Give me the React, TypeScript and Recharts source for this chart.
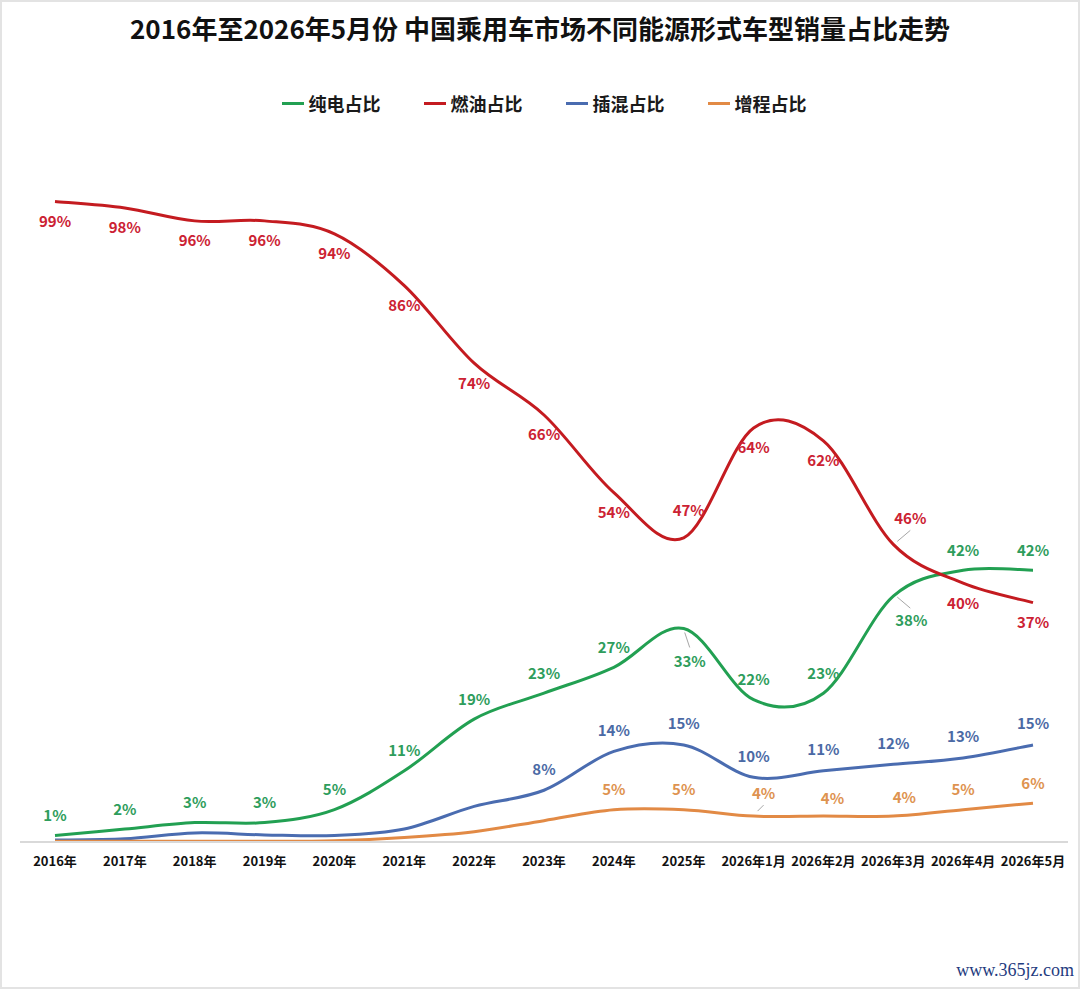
import { LineChart, Line, XAxis, YAxis, LabelList, Legend } from 'recharts';

const categories = [
  '2016年', '2017年', '2018年', '2019年', '2020年', '2021年', '2022年', '2023年',
  '2024年', '2025年', '2026年1月', '2026年2月', '2026年3月', '2026年4月', '2026年5月',
];
// 纯电
const bevShare = [1, 2, 3, 3, 5, 11, 19, 23, 27, 33, 22, 23, 38, 42, 42];
// 燃油
const iceShare = [99, 98, 96, 96, 94, 86, 74, 66, 54, 47, 64, 62, 46, 40, 37];
// 插混 (early years unlabeled)
const phevShare = [0.3, 0.5, 1.4, 1.1, 1.0, 2.0, 5.5, 8, 14, 15, 10, 11, 12, 13, 15];
// 增程
const erevShare = [0.1, 0.1, 0.1, 0.1, 0.2, 0.7, 1.6, 3.3, 5, 5, 4, 4, 4, 5, 6];

const data = categories.map((cat, i) => ({
  cat,
  bev: bevShare[i],
  ice: iceShare[i],
  phev: phevShare[i],
  erev: erevShare[i],
}));

const FONT = "'Noto Sans CJK SC', 'Noto Sans', sans-serif";

// excel-like smoothed line (catmull-rom through every point)
const excelSmooth = (context: any) => {
  let pts: number[][] = [];
  return {
    areaStart() {},
    areaEnd() {},
    lineStart() {
      pts = [];
    },
    point(x: number, y: number) {
      pts.push([+x, +y]);
    },
    lineEnd() {
      if (!pts.length) return;
      context.moveTo(pts[0][0], pts[0][1]);
      for (let i = 0; i < pts.length - 1; i++) {
        const p0 = pts[Math.max(i - 1, 0)];
        const p1 = pts[i];
        const p2 = pts[i + 1];
        const p3 = pts[Math.min(i + 2, pts.length - 1)];
        context.bezierCurveTo(
          p1[0] + (p2[0] - p0[0]) / 6,
          p1[1] + (p2[1] - p0[1]) / 6,
          p2[0] - (p3[0] - p1[0]) / 6,
          p2[1] - (p3[1] - p1[1]) / 6,
          p2[0],
          p2[1],
        );
      }
    },
  };
};

type Spot = { dx: number; dy: number; leader?: number[] };

const SERIES = [
  {
    key: 'bev', name: '纯电占比', color: '#22a052', labelColor: '#2e9d5c', from: 0,
    base: { dx: 0, dy: -21 } as Spot,
    spots: {
      '2025年': { dx: 6, dy: 32, leader: [1, 4, 6, 19] },
      '2026年3月': { dx: 18, dy: 23, leader: [4, 1, 17, 12] },
    } as Record<string, Spot>,
  },
  {
    key: 'ice', name: '燃油占比', color: '#c41b20', labelColor: '#cc2233', from: 0,
    base: { dx: 0, dy: 19 } as Spot,
    spots: {
      '2025年': { dx: 5, dy: -28 },
      '2026年3月': { dx: 17, dy: -27, leader: [4, -3, 17, -14] },
    } as Record<string, Spot>,
  },
  {
    key: 'phev', name: '插混占比', color: '#4a6cb0', labelColor: '#4b6aa5', from: 7,
    base: { dx: 0, dy: -22 } as Spot,
    spots: {} as Record<string, Spot>,
  },
  {
    key: 'erev', name: '增程占比', color: '#e28a45', labelColor: '#de9350', from: 8,
    base: { dx: 0, dy: -21 } as Spot,
    spots: {
      '2026年1月': { dx: 10, dy: -24, leader: [4, -5, 10, -11] },
      '2026年2月': { dx: 9, dy: -19 },
      '2026年3月': { dx: 11, dy: -20 },
    } as Record<string, Spot>,
  },
];

const makeLabel = (s: (typeof SERIES)[number]) => (props: any) => {
  const { x, y, value, index } = props;
  if (index < s.from || x == null || y == null) return null;
  const spot = s.spots[categories[index]] || s.base;
  return (
    <g key={`${s.key}-${index}`}>
      {spot.leader && (
        <line
          x1={x + spot.leader[0]}
          y1={y + spot.leader[1]}
          x2={x + spot.leader[2]}
          y2={y + spot.leader[3]}
          stroke="#a6a6a6"
          strokeWidth={1}
        />
      )}
      <text
        x={x + spot.dx}
        y={y + spot.dy}
        textAnchor="middle"
        dominantBaseline="central"
        fill={s.labelColor}
        fontSize={15}
        fontWeight={700}
        fontFamily={FONT}
      >
        {Math.round(value)}%
      </text>
    </g>
  );
};

const CatTick = (props: any) => {
  const { x, y, payload } = props;
  return (
    <text x={x} y={y + 10} textAnchor="middle" dominantBaseline="central" fill="#111" fontSize={13} fontWeight={700} fontFamily={FONT}>
      {payload.value}
    </text>
  );
};

const renderLegend = () => (
  <div style={{ display: 'flex', justifyContent: 'center', gap: 43, paddingLeft: 6, fontFamily: FONT }}>
    {SERIES.map((s) => (
      <div key={s.key} style={{ display: 'flex', alignItems: 'center' }}>
        <span style={{ display: 'inline-block', width: 22, height: 3, background: s.color, marginRight: 5 }} />
        <span style={{ fontSize: 18, fontWeight: 700, color: '#1a1a1a' }}>{s.name}</span>
      </div>
    ))}
  </div>
);

export default function App() {
  return (
    <div style={{ position: 'absolute', left: 0, top: 0, width: 1080, height: 989, background: '#fff' }}>
      <div
        style={{
          position: 'absolute', top: 9, left: 0, width: 1080, textAlign: 'center',
          fontFamily: FONT, fontSize: 26, fontWeight: 700, color: '#111', lineHeight: '38px',
        }}
      >
        2016年至2026年5月份 中国乘用车市场不同能源形式车型销量占比走势
      </div>
      <LineChart width={1080} height={989} data={data} margin={{ top: 195, right: 12, bottom: 117, left: 20 }}>
        <XAxis
          dataKey="cat"
          interval={0}
          padding={{ left: 35, right: 35 }}
          axisLine={{ stroke: '#d9d9d9', strokeWidth: 2 }}
          tickLine={false}
          tick={<CatTick />}
        />
        <YAxis hide domain={[0, 100]} />
        <Legend
          verticalAlign="middle"
          align="center"
          layout="horizontal"
          content={renderLegend}
          wrapperStyle={{ top: 90, left: 1, width: 1080 }}
        />
        {SERIES.map((s) => (
          <Line
            key={s.key}
            dataKey={s.key}
            name={s.name}
            type={excelSmooth as any}
            stroke={s.color}
            strokeWidth={3}
            dot={false}
            activeDot={false}
            isAnimationActive={false}
          >
            <LabelList dataKey={s.key} content={makeLabel(s)} />
          </Line>
        ))}
      </LineChart>
      <div
        style={{
          position: 'absolute', top: 960, right: 6, fontFamily: "'Liberation Serif', serif",
          fontSize: 18, color: '#1f3c80',
        }}
      >
        www.365jz.com
      </div>
      <div
        style={{
          position: 'absolute', left: 0, top: 0, width: 1080, height: 989, boxSizing: 'border-box',
          border: '2px solid #e3e3e3', pointerEvents: 'none',
        }}
      />
    </div>
  );
}
